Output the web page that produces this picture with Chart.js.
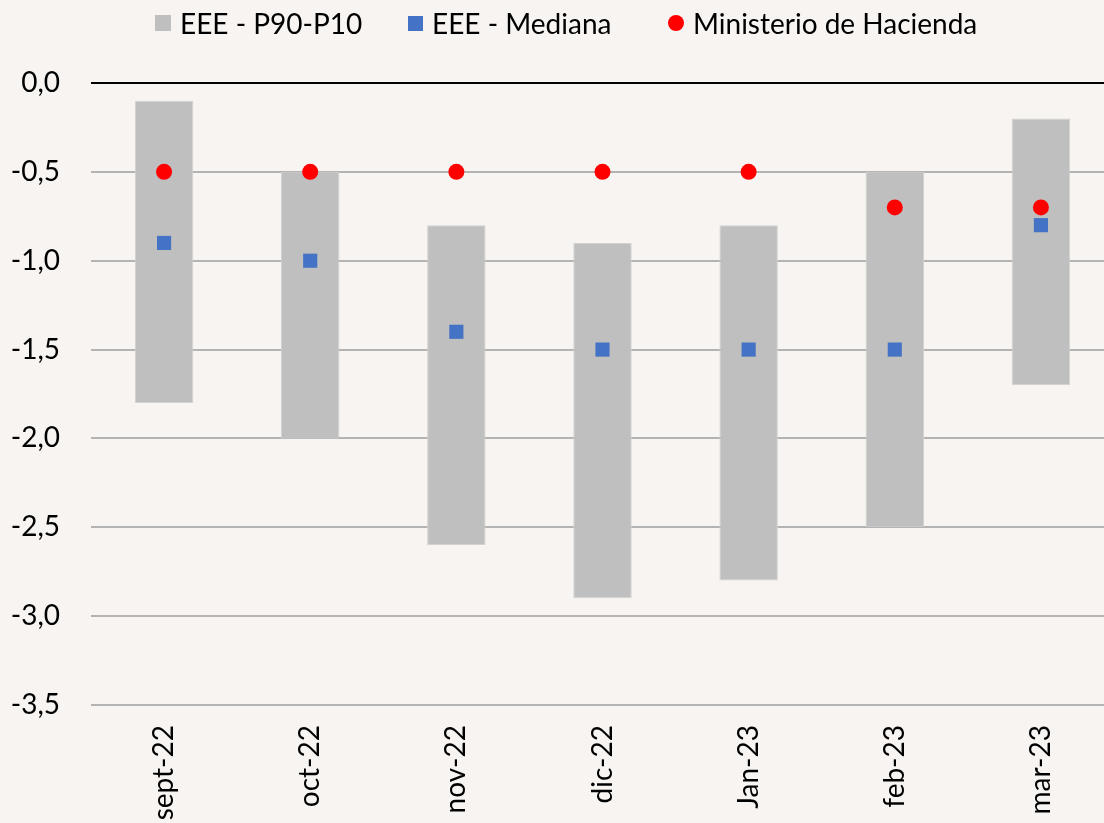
<!DOCTYPE html>
<html><head><meta charset="utf-8">
<script src="https://cdn.jsdelivr.net/npm/chart.js@4"></script>
<style>
html,body{margin:0;padding:0;background:#f7f4f1;overflow:hidden;width:1104px;height:823px}
#wrap{position:relative;width:1104px;height:823px;overflow:hidden}
canvas{position:absolute;left:0;top:0}
.lg{position:absolute;top:8px;font-family:Lato,sans-serif;font-size:28px;color:#000;display:flex;align-items:center;height:30px;white-space:nowrap}
.mk{display:inline-block;margin-right:9px}
</style></head><body>
<div id="wrap"><canvas id="c" width="1124" height="823" style="width:1124px;height:823px"></canvas>
<div class="lg" style="left:155px"><span class="mk" style="width:16px;height:16px;background:#bfbfbf"></span>EEE - P90-P10</div>
<div class="lg" style="left:408px"><span class="mk" style="width:15px;height:15px;background:#4472c4"></span>EEE - Mediana</div>
<div class="lg" style="left:668px"><span class="mk" style="width:16px;height:16px;border-radius:50%;background:#ff0000"></span>Ministerio de Hacienda</div>
</div>
<script>
const categories = ['sept-22','oct-22','nov-22','dic-22','Jan-23','feb-23','mar-23'];
const p10 = [-1.8,-2.0,-2.6,-2.9,-2.8,-2.5,-1.7];
const p90 = [-0.1,-0.5,-0.8,-0.9,-0.8,-0.5,-0.2];
const mediana = [-0.9,-1.0,-1.4,-1.5,-1.5,-1.5,-0.8];
const hacienda = [-0.5,-0.5,-0.5,-0.5,-0.5,-0.7,-0.7];
const yMin = -3.5, yMax = 0, yStep = 0.5;

const FONT = 'Lato, sans-serif';
new Chart(document.getElementById('c'), {
  type: 'bar',
  data: {
    labels: categories,
    datasets: [
      {label:'EEE - P90-P10', data: p10.map((v,i)=>[v,p90[i]]), backgroundColor:'#bfbfbf', borderColor:'#d2d2d2', borderWidth:1, borderSkipped:false, barPercentage:0.4, categoryPercentage:1, order:3},
      {label:'EEE - Mediana', type:'line', data: mediana, showLine:false, pointStyle:'rect', pointRadius:10, pointBackgroundColor:'#4472c4', pointBorderWidth:0, order:2},
      {label:'Ministerio de Hacienda', type:'line', data: hacienda, showLine:false, pointStyle:'circle', pointRadius:8, pointBackgroundColor:'#ff0000', pointBorderWidth:0, order:1}
    ]
  },
  options: {
    responsive:false, animation:false, devicePixelRatio:1,
    layout:{padding:{top:83,left:0,right:0,bottom:0}},
    plugins:{legend:{display:false}, tooltip:{enabled:false}},
    scales:{
      x:{
        offset:true,
        grid:{display:false, drawTicks:false},
        border:{display:false},
        ticks:{minRotation:90,maxRotation:90,padding:20,color:'#000',font:{family:FONT,size:28}},
        afterFit:s=>{s.height=118; s.paddingLeft=0; s.paddingRight=0;}
      },
      y:{
        min:yMin,max:yMax,
        grid:{color:c=>c.tick && c.tick.value===0?'#000':'#b3b3b3', lineWidth:2, drawTicks:false},
        border:{display:false},
        ticks:{stepSize:yStep,padding:31,color:'#000',font:{family:FONT,size:28},
          callback:v=>(Math.abs(v)<1e-9?0:v).toFixed(1).replace('.',',')},
        afterFit:s=>{s.width=91;}
      }
    }
  }
});
</script>
</body></html>
